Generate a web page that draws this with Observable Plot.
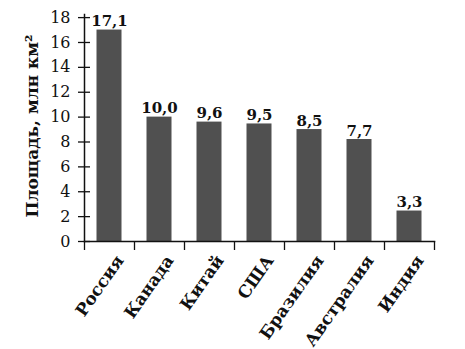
<!DOCTYPE html>
<html><head><meta charset="utf-8">
<script src="https://cdn.jsdelivr.net/npm/d3@7"></script>
<script src="https://cdn.jsdelivr.net/npm/@observablehq/plot@0.6"></script>
<style>body{margin:0;background:#fff}</style>
</head><body><div id="chart"></div>
<script>
const countries = ["Россия", "Канада", "Китай", "США", "Бразилия", "Австралия", "Индия"];
const barHeights = [17.0, 10.0, 9.6, 9.45, 9.0, 8.2, 2.45];
const valueLabels = ["17,1", "10,0", "9,6", "9,5", "8,5", "7,7", "3,3"];
const yTicks = [0, 2, 4, 6, 8, 10, 12, 14, 16, 18];
const yTitle = "Площадь, млн км²";

const table = countries.map((c, i) => ({i, country: c, height: barHeights[i], label: valueLabels[i]}));
const slots = d3.range(countries.length + 1);

const chart = Plot.plot({
  width: 465, height: 349,
  marginLeft: 84, marginRight: 31, marginTop: 14, marginBottom: 108,
  style: {fontFamily: "DejaVu Serif", fontSize: "16px", color: "#111", background: "#fff"},
  x: {domain: [0, countries.length], axis: null},
  y: {domain: [0, 18.25], axis: null},
  marks: [
    Plot.rectY(table, {x1: d => d.i, x2: d => d.i + 1, y: "height", insetLeft: 12.5, insetRight: 12.5, fill: "#505050"}),
    Plot.frame({anchor: "left", strokeWidth: 1.5, stroke: "#111"}),
    Plot.frame({anchor: "bottom", strokeWidth: 1.5, stroke: "#111"}),
    Plot.axisY({ticks: yTicks, tickSize: 6, tickPadding: 8, label: null, stroke: "#111", strokeWidth: 1.3, fill: "#111"}),
    Plot.axisY({ticks: yTicks, tickSize: 6, dx: 6, tickFormat: () => "", label: null, stroke: "#111", strokeWidth: 1.3}),
    Plot.axisX({ticks: slots, tickSize: 9, tickFormat: () => "", label: null, stroke: "#111", strokeWidth: 1.3}),
    Plot.text(table, {x: d => d.i + 0.5, frameAnchor: "bottom", text: "country", rotate: -55, textAnchor: "end", lineAnchor: "top", dx: 5, dy: 12, fontWeight: "bold", fontSize: 17, fill: "#111"}),
    Plot.text(table, {x: d => d.i + 0.5, y: "height", text: "label", lineAnchor: "bottom", dy: -4, fontWeight: "bold", fontSize: 15, fill: "#111"}),
    Plot.text([yTitle], {frameAnchor: "left", rotate: -90, textAnchor: "middle", dx: -52, dy: -2, fontWeight: "bold", fontSize: 17, fill: "#111"})
  ]
});
document.getElementById("chart").append(chart);
</script>
</body></html>
